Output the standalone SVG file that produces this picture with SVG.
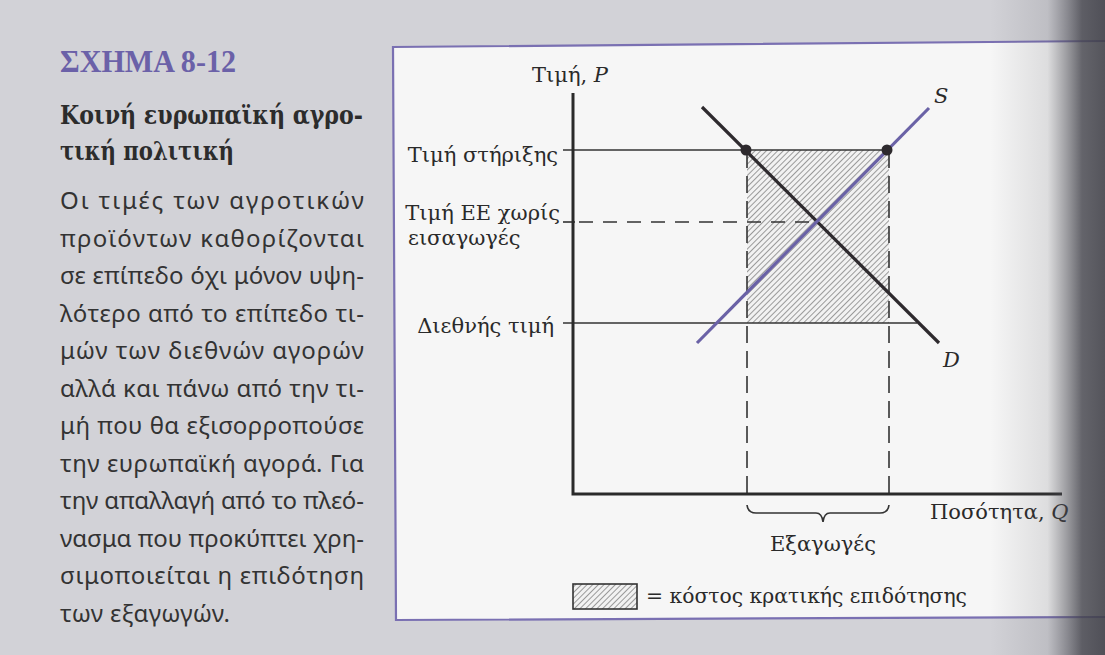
<svg xmlns="http://www.w3.org/2000/svg" width="1105" height="655" viewBox="0 0 1105 655">
  <defs>
    <pattern id="hatch" patternUnits="userSpaceOnUse" width="4" height="4" patternTransform="rotate(45)">
      <rect width="4" height="4" fill="#f2f2f2"/>
      <line x1="0" y1="0" x2="0" y2="4" stroke="#6a6a6a" stroke-width="1.3"/>
    </pattern>
    <linearGradient id="shadow" x1="0" y1="0" x2="1" y2="0">
      <stop offset="0" stop-color="#505058" stop-opacity="0"/>
      <stop offset="0.5" stop-color="#505058" stop-opacity="0.15"/>
      <stop offset="0.68" stop-color="#4a4a52" stop-opacity="0.55"/>
      <stop offset="0.8" stop-color="#44444c" stop-opacity="0.82"/>
      <stop offset="1" stop-color="#3e3e46" stop-opacity="0.88"/>
    </linearGradient>
    <style>
      .lbl { font-family: "DejaVu Serif", "Liberation Serif", serif; font-size: 21px; fill: #2a2a2a; }
      .it { font-style: italic; }
      .body { font-family: "Noto Sans", "DejaVu Sans", sans-serif; font-size: 24px; fill: #333333; }
      .title { font-family: "DejaVu Serif", "Liberation Serif", serif; font-weight: bold; font-size: 26px; fill: #2c2c2c; }
      .fig { font-family: "Liberation Serif", "DejaVu Serif", serif; font-weight: bold; font-size: 31px; fill: #6b61a8; }
      .axis { stroke: #2a2a2a; stroke-width: 3; fill: none; }
      .thin { stroke: #333333; stroke-width: 1.6; fill: none; }
      .dash { stroke: #333333; stroke-width: 1.6; fill: none; stroke-dasharray: 17 8; }
      .dashh { stroke: #333333; stroke-width: 1.6; fill: none; stroke-dasharray: 14 10; }
      .curveD { stroke: #2e2a2e; stroke-width: 3.2; fill: none; }
      .curveS { stroke: #6a62a6; stroke-width: 3.2; fill: none; }
    </style>
  </defs>

  <!-- page background -->
  <rect x="0" y="0" width="1105" height="655" fill="#d2d2d7"/>

  <!-- figure panel -->
  <g id="panel">
    <polygon points="393,47 1105,41 1105,617 396,620" fill="#f6f6f6"/>
    <polyline points="1105,41 393,47 396,620 1105,617" fill="none" stroke="#7a70b2" stroke-width="2.2"/>
  </g>

  <!-- left caption -->
  <g id="caption">
    <text class="fig" x="60" y="72" textLength="176" lengthAdjust="spacingAndGlyphs">ΣΧΗΜΑ 8-12</text>
    <text class="title" x="60" y="124" textLength="303" lengthAdjust="spacingAndGlyphs">Κοινή ευρωπαϊκή αγρο-</text>
    <text class="title" x="60" y="160" textLength="174" lengthAdjust="spacingAndGlyphs">τική πολιτική</text>
  </g>
  <g id="body-text">
    <text class="body" x="60" y="209" textLength="304" lengthAdjust="spacing">Οι τιμές των αγροτικών</text>
    <text class="body" x="60" y="246.5" textLength="304" lengthAdjust="spacing">προϊόντων καθορίζονται</text>
    <text class="body" x="60" y="284" textLength="304" lengthAdjust="spacing">σε επίπεδο όχι μόνον υψη-</text>
    <text class="body" x="60" y="321.5" textLength="304" lengthAdjust="spacing">λότερο από το επίπεδο τι-</text>
    <text class="body" x="60" y="359" textLength="304" lengthAdjust="spacing">μών των διεθνών αγορών</text>
    <text class="body" x="60" y="396.5" textLength="304" lengthAdjust="spacing">αλλά και πάνω από την τι-</text>
    <text class="body" x="60" y="434" textLength="304" lengthAdjust="spacing">μή που θα εξισορροπούσε</text>
    <text class="body" x="60" y="471.5" textLength="304" lengthAdjust="spacing">την ευρωπαϊκή αγορά. Για</text>
    <text class="body" x="60" y="509" textLength="304" lengthAdjust="spacing">την απαλλαγή από το πλεό-</text>
    <text class="body" x="60" y="546.5" textLength="304" lengthAdjust="spacing">νασμα που προκύπτει χρη-</text>
    <text class="body" x="60" y="584" textLength="304" lengthAdjust="spacing">σιμοποιείται η επιδότηση</text>
    <text class="body" x="60" y="621.5" textLength="170" lengthAdjust="spacing">των εξαγωγών.</text>
  </g>

  <!-- subsidy area -->
  <g id="subsidy-area">
    <rect x="747" y="150" width="142" height="173" fill="url(#hatch)"/>
  </g>

  <!-- connectors: axes, price levels, curves -->
  <g id="connectors">
    <line class="dash" x1="747" y1="151" x2="747" y2="494"/>
    <line class="dash" x1="889" y1="151" x2="889" y2="494"/>
    <line class="thin" x1="563" y1="150" x2="887" y2="150"/>
    <line class="thin" x1="563" y1="222" x2="575" y2="222"/>
    <line class="dashh" x1="579" y1="222" x2="817" y2="222"/>
    <line class="thin" x1="563" y1="323" x2="917" y2="323"/>
    <line class="curveD" x1="702" y1="107" x2="939" y2="343"/>
    <line class="curveS" x1="697" y1="343" x2="929" y2="108"/>
    <circle cx="746" cy="150" r="5.5" fill="#2e2a2e"/>
    <circle cx="887" cy="150" r="5.5" fill="#2e2a2e"/>
    <polyline class="axis" points="573,93 573,494 1062,494"/>
    <path class="thin" d="M747,505 Q748,513 756,513 L816,513 Q822,513 823,522 Q824,513 830,513 L880,513 Q888,513 889,505"/>
  </g>

  <!-- chart labels -->
  <g id="label-price-axis"><text class="lbl" x="532" y="82">Τιμή, <tspan class="it">P</tspan></text></g>
  <g id="label-support"><text class="lbl" x="558" y="162" text-anchor="end">Τιμή στήριξης</text></g>
  <g id="label-eu">
    <text class="lbl" x="560" y="220" text-anchor="end">Τιμή ΕΕ χωρίς</text>
    <text class="lbl" x="408" y="245">εισαγωγές</text>
  </g>
  <g id="label-world"><text class="lbl" x="554" y="333" text-anchor="end">Διεθνής τιμή</text></g>
  <g id="label-S"><text class="lbl it" x="934" y="103">S</text></g>
  <g id="label-D"><text class="lbl it" x="943" y="367">D</text></g>
  <g id="label-exports"><text class="lbl" x="823" y="551" text-anchor="middle">Εξαγωγές</text></g>
  <g id="label-quantity"><text class="lbl" x="930" y="519">Ποσότητα, <tspan class="it">Q</tspan></text></g>
  <g id="legend">
    <rect x="573" y="584" width="64" height="25" fill="url(#hatch)" stroke="#333333" stroke-width="1.6"/>
    <text class="lbl" x="646" y="603" textLength="321" lengthAdjust="spacingAndGlyphs">= κόστος κρατικής επιδότησης</text>
  </g>

  <!-- page curl shadow on the right -->
  <rect x="990" y="0" width="115" height="655" fill="url(#shadow)"/>
</svg>
